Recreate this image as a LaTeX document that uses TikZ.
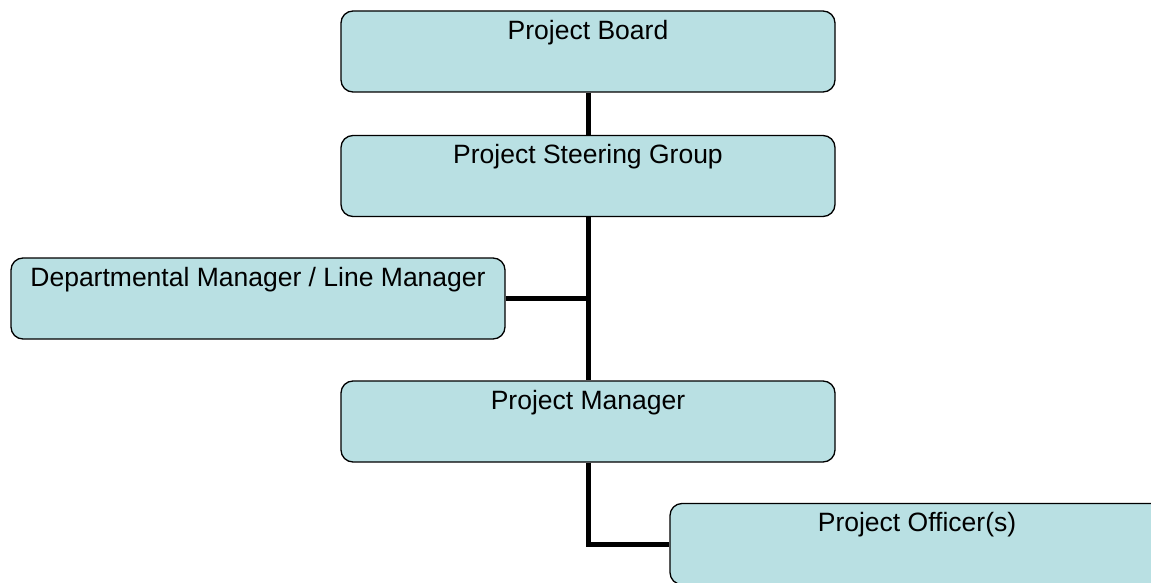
\documentclass[tikz,border=0pt]{standalone}
\usepackage{fontspec}
\setmainfont{Liberation Sans}
\definecolor{boxfill}{RGB}{185,224,227}
\begin{document}
\begin{tikzpicture}[x=1pt,y=-1pt,
  box/.style={draw=black, line width=1.3pt, fill=boxfill, rounded corners=12pt,
    minimum width=494pt, minimum height=81pt, inner sep=0pt},
  boxtext/.style={anchor=base, inner sep=0pt, yshift=-29pt,
    font=\fontsize{26.5}{30}\selectfont},
  conn/.style={draw=black, line width=5pt}]
\useasboundingbox (0,0) rectangle (1151,583);
\clip (0,0) rectangle (1151,583);
\node[box, label={[boxtext, name=boardt]north:Project Board}] (board) at (588,51.5) {};
\node[box, label={[boxtext, name=steert]north:Project Steering Group}] (steer) at (588,176) {};
\node[box, label={[boxtext, name=deptt]north:Departmental Manager / Line Manager}] (dept) at (258,298.5) {};
\node[box, label={[boxtext, name=pmt]north:Project Manager}] (pm) at (588,421.5) {};
\node[box, label={[boxtext, name=offt]north:Project Officer(s)}] (officer) at (917,544) {};
\draw[conn] (board.south) -- (steer.north);
\draw[conn] (steer.south) -- (pm.north);
\draw[conn] (dept.east) -- (dept.east -| pm.north);
\draw[conn] (pm.south) |- (officer.west);
\end{tikzpicture}
\end{document}
